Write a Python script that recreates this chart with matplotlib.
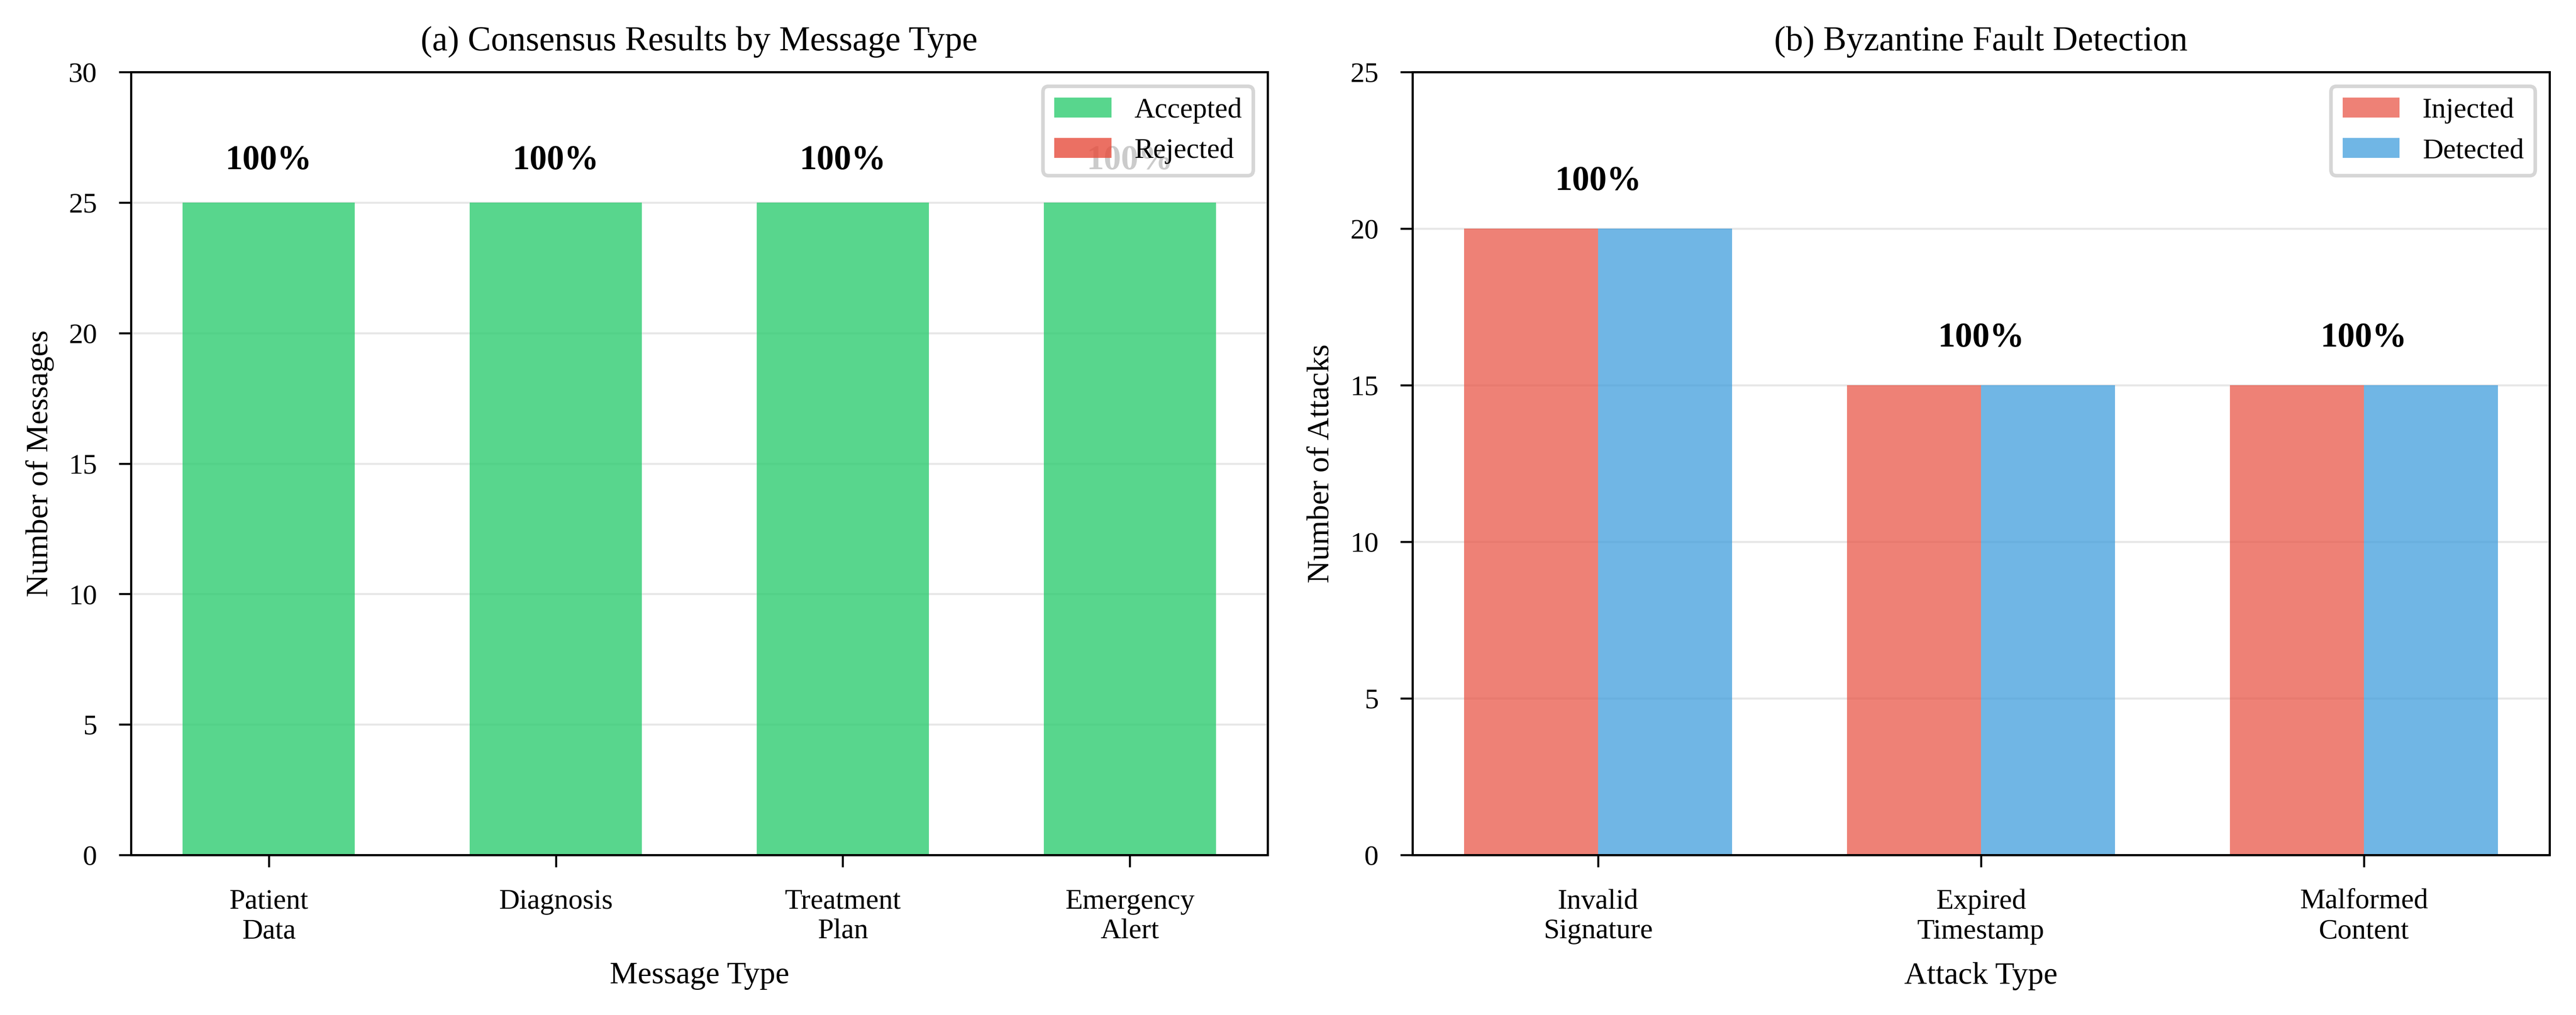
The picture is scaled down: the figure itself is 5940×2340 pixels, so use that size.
import matplotlib
matplotlib.use("Agg")
import matplotlib.pyplot as plt
import numpy as np

plt.rcParams['font.family'] = ['Liberation Serif', 'DejaVu Serif']
plt.rcParams['axes.linewidth'] = 0.6
plt.rcParams['xtick.major.width'] = 0.55
plt.rcParams['ytick.major.width'] = 0.55
plt.rcParams['xtick.major.size'] = 3.4
plt.rcParams['ytick.major.size'] = 3.4
plt.rcParams['xtick.major.pad'] = 6.0
plt.rcParams['ytick.major.pad'] = 6.0

# ---- data ----
message_types = ['Patient\nData', 'Diagnosis', 'Treatment\nPlan', 'Emergency\nAlert']
accepted = [25, 25, 25, 25]
rejected = [0, 0, 0, 0]

attack_types = ['Invalid\nSignature', 'Expired\nTimestamp', 'Malformed\nContent']
injected = [20, 15, 15]
detected = [20, 15, 15]

TITLE_FS = 9.6
LABEL_FS = 8.7
TICK_FS = 7.9
LEG_FS = 7.9
ANN_FS = 9.6

fig = plt.figure(figsize=(9.9, 3.9), dpi=600)
ax1 = fig.add_axes([0.05084, 0.15769, 0.49209 - 0.05084, 0.92906 - 0.15769])
ax2 = fig.add_axes([0.54832, 0.15769, 0.98973 - 0.54832, 0.92906 - 0.15769])

# ---- (a) ----
x1 = np.arange(len(message_types))
ax1.bar(x1, accepted, 0.6, color='#2ecc71', alpha=0.8, label='Accepted', zorder=2)
ax1.bar(x1, rejected, 0.6, bottom=accepted, color='#e74c3c', alpha=0.8, label='Rejected', zorder=2)
for xi, a, r in zip(x1, accepted, rejected):
    total = a + r
    pct = a / total * 100 if total else 0
    ax1.text(xi, total + 1, f'{pct:.0f}%', ha='center', va='bottom',
             fontsize=ANN_FS, fontweight='bold', zorder=3)
ax1.set_ylim(0, 30)
ax1.set_yticks(np.arange(0, 31, 5))
ax1.set_xticks(x1)
ax1.set_xticklabels(message_types, fontsize=TICK_FS)
ax1.tick_params(axis='y', labelsize=TICK_FS)
ax1.set_xlabel('Message Type', fontsize=LABEL_FS, labelpad=4.8)
ax1.set_ylabel('Number of Messages', fontsize=LABEL_FS, labelpad=4.0)
ax1.set_title('(a) Consensus Results by Message Type', fontsize=TITLE_FS)
ax1.grid(axis='y', alpha=0.3, linewidth=0.55)
ax1.set_axisbelow(True)
ax1.legend(loc='upper right', fontsize=LEG_FS)

# ---- (b) ----
x2 = np.arange(len(attack_types))
w = 0.35
ax2.bar(x2 - w / 2, injected, w, color='#e74c3c', alpha=0.7, label='Injected', zorder=2)
ax2.bar(x2 + w / 2, detected, w, color='#3498db', alpha=0.7, label='Detected', zorder=2)
for xi, inj, det in zip(x2, injected, detected):
    rate = det / inj * 100 if inj else 0
    ax2.text(xi, max(inj, det) + 1, f'{rate:.0f}%', ha='center', va='bottom',
             fontsize=ANN_FS, fontweight='bold', zorder=3)
ax2.set_ylim(0, 25)
ax2.set_yticks(np.arange(0, 26, 5))
ax2.set_xticks(x2)
ax2.set_xticklabels(attack_types, fontsize=TICK_FS)
ax2.tick_params(axis='y', labelsize=TICK_FS)
ax2.set_xlabel('Attack Type', fontsize=LABEL_FS, labelpad=4.8)
ax2.set_ylabel('Number of Attacks', fontsize=LABEL_FS, labelpad=4.0)
ax2.set_title('(b) Byzantine Fault Detection', fontsize=TITLE_FS)
ax2.grid(axis='y', alpha=0.3, linewidth=0.55)
ax2.set_axisbelow(True)
ax2.legend(loc='upper right', fontsize=LEG_FS)

fig.savefig('out.png', dpi=600, facecolor='white')
